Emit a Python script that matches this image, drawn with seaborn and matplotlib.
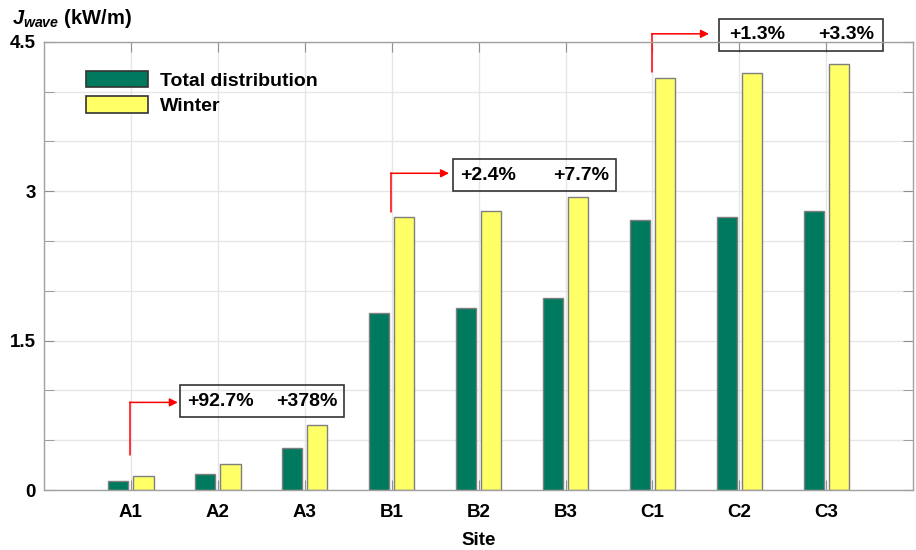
import pandas as pd
import seaborn as sns
import matplotlib.pyplot as plt
from matplotlib.patches import Rectangle
from matplotlib.ticker import MultipleLocator, FixedLocator, FormatStrFormatter

# Datos
sites = ['A1', 'A2', 'A3', 'B1', 'B2', 'B3', 'C1', 'C2', 'C3']
total = [0.09, 0.16, 0.42, 1.78, 1.83, 1.93, 2.71, 2.74, 2.80]
winter = [0.14, 0.26, 0.65, 2.74, 2.80, 2.94, 4.14, 4.19, 4.28]
series = ['Total distribution', 'Winter']
colors = ['#007a5e', '#ffff66']
yticks = [0, 1.5, 3, 4.5]

# etiquetas de aumento por grupo
groups_idx = [0, 3, 6]
increase_lo = ['+92.7%', '+2.4%', '+1.3%']
increase_hi = ['+378%', '+7.7%', '+3.3%']

df = pd.DataFrame({
    'Site': sites * 2,
    'J': total + winter,
    'Serie': [series[0]] * len(sites) + [series[1]] * len(sites),
})

sns.set_style('white')
plt.rcParams['font.family'] = ['Liberation Sans', 'DejaVu Sans']
plt.rcParams['font.weight'] = 'bold'
plt.rcParams['text.color'] = 'black'
plt.rcParams['axes.labelcolor'] = 'black'
plt.rcParams['mathtext.fontset'] = 'custom'
plt.rcParams['mathtext.it'] = 'Liberation Sans:italic:bold'
plt.rcParams['mathtext.rm'] = 'Liberation Sans:bold'

fig = plt.figure(figsize=(9.16, 5.5), dpi=100)
ax = fig.add_axes([0.048, 0.109, 0.949, 0.815])

sns.barplot(data=df, x='Site', y='J', hue='Serie', palette=colors,
            width=0.58, gap=0.2, edgecolor='#7f7f7f', linewidth=1,
            saturation=1, ax=ax)

ax.set_xlim(-1, 9)
ax.set_ylim(0, 4.5)
ax.yaxis.set_major_locator(FixedLocator(yticks))
ax.yaxis.set_major_formatter(FormatStrFormatter('%g'))
ax.yaxis.set_minor_locator(MultipleLocator(0.5))
ax.grid(True, which='both', axis='y', color='#e6e6e6', lw=1)
ax.grid(True, which='major', axis='x', color='#e6e6e6', lw=1)
ax.set_axisbelow(True)
ax.tick_params(axis='both', which='both', direction='in', colors='#909090',
               labelcolor='black', labelsize=13.5, length=7,
               top=True, right=True, left=True, bottom=True)
ax.tick_params(axis='x', pad=10)
ax.tick_params(axis='y', pad=6)
for s in ax.spines.values():
    s.set_color('#a0a0a0')
    s.set_linewidth(1)
ax.set_xlabel('Site', fontsize=13.5, fontweight='bold', labelpad=8)
ax.set_ylabel('')

leg = ax.legend(loc='upper left', bbox_to_anchor=(0.039, 0.952), frameon=False,
                fontsize=14, handlelength=3.2, handleheight=0.92,
                labelspacing=0.32, handletextpad=0.6, borderaxespad=0)
for h in leg.legend_handles:
    h.set_edgecolor('#333333')
    h.set_linewidth(1.2)

fig.text(0.013, 0.966, r'$J_{wave}$ (kW/m)', fontsize=14.5, fontweight='bold',
         va='center', ha='left')

# flechas y cajas de porcentaje
arrow_y0 = [0.35, 2.79, 4.20]
arrow_y1 = [0.88, 3.18, 4.58]
arrow_dx = [0.54, 0.66, 0.65]
box_dx = [0.57, 0.70, 0.77]
box_y = [0.73, 3.00, 4.41]
lo_dx = [0.65, 0.79, 0.88]
hi_dx = [1.67, 1.86, 1.91]
for i, g in enumerate(groups_idx):
    x0 = g - 0.01
    y1 = arrow_y1[i]
    by = box_y[i]
    ax.plot([x0, x0], [arrow_y0[i], y1], color='red', lw=1.1, clip_on=False)
    ax.annotate('', xy=(g + arrow_dx[i], y1), xytext=(x0, y1),
                arrowprops=dict(arrowstyle='-|>', color='red', lw=1.1,
                                mutation_scale=12, shrinkA=0, shrinkB=0),
                annotation_clip=False)
    ax.add_patch(Rectangle((g + box_dx[i], by), 1.88, 0.32, fill=False,
                           edgecolor='#333333', lw=1.2, clip_on=False))
    ax.text(g + lo_dx[i], by + 0.16, increase_lo[i], fontsize=14,
            fontweight='bold', va='center', ha='left', clip_on=False)
    ax.text(g + hi_dx[i], by + 0.16, increase_hi[i], fontsize=14,
            fontweight='bold', va='center', ha='left', clip_on=False)

plt.savefig('out.png', dpi=100)
